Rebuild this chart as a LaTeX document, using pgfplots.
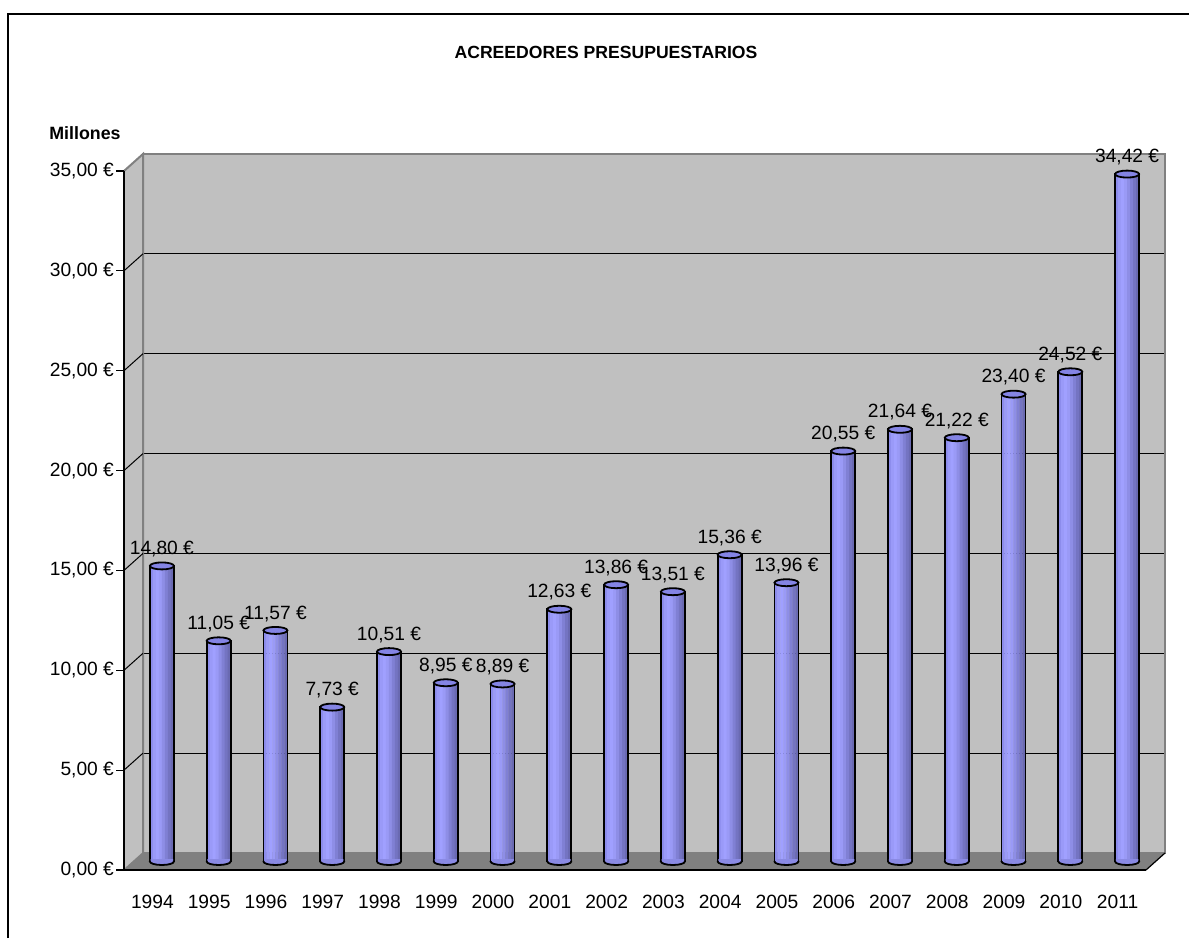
\documentclass[border=0pt]{standalone}
\usepackage{pgfplots}
\pgfplotsset{compat=1.18}
\usepackage{fontspec}
\setmainfont{Liberation Sans}
\pgfplotsset{/pgf/number format/assume math mode=true}
\definecolor{wall}{HTML}{C0C0C0}
\definecolor{floorc}{HTML}{808080}
\definecolor{edgec}{HTML}{808080}
\definecolor{topc}{HTML}{8484E4}
\definecolor{cylmid}{HTML}{8A8AE4}
\definecolor{s1}{HTML}{8C8CEC}
\definecolor{s2}{HTML}{9A9AF8}
\definecolor{s3}{HTML}{A0A0FF}
\definecolor{s4}{HTML}{9A9AF6}
\definecolor{s5}{HTML}{8E8EE6}
\definecolor{s6}{HTML}{8080D4}
\definecolor{s7}{HTML}{7474C2}
\definecolor{s8}{HTML}{6A6AB2}
\pgfdeclareplotmark{cyltop}{%
  \pgfpathellipse{\pgfpointorigin}{\pgfqpoint{6pt}{0pt}}{\pgfqpoint{0pt}{1.75pt}}%
  \pgfusepathqfillstroke}
\pgfdeclareplotmark{cylbot}{%
  \pgfpathmoveto{\pgfqpoint{-5.6pt}{1.2pt}}%
  \pgfpathlineto{\pgfqpoint{-5.6pt}{0pt}}%
  \pgfpatharc{180}{360}{5.6pt and 1.75pt}%
  \pgfpathlineto{\pgfqpoint{5.6pt}{1.2pt}}%
  \pgfpathclose
  \pgfusepathqfill
  \pgfpathmoveto{\pgfqpoint{-6pt}{0.3pt}}%
  \pgfpathlineto{\pgfqpoint{-6pt}{0pt}}%
  \pgfpatharc{180}{360}{6pt and 1.75pt}%
  \pgfpathlineto{\pgfqpoint{6pt}{0.3pt}}%
  \pgfusepathqstroke}
\pgfplotstableread{
x y
0 14.80
1 11.05
2 11.57
3 7.73
4 10.51
5 8.95
6 8.89
7 12.63
8 13.86
9 13.51
10 15.36
11 13.96
12 20.55
13 21.64
14 21.22
15 23.40
16 24.52
17 34.42
}\datatable
\begin{document}
\begin{tikzpicture}
\useasboundingbox (0,0) rectangle (594.5pt,469pt);
\fill[white] (0,0) rectangle (594.5pt,469pt);
% outer frame
\draw[black, line width=0.6pt] (4pt,0) -- (4pt,462pt) -- (594.5pt,462pt);
\node[font=\fontsize{8.8}{10}\selectfont\bfseries] at (303pt,443pt) {ACREEDORES PRESUPUESTARIOS};
\node[font=\fontsize{8.9}{10}\selectfont\bfseries, anchor=west, inner sep=0pt] at (24.5pt,402.5pt) {Millones};
% back wall
\begin{axis}[at={(71.5pt,42.5pt)}, anchor=south west, scale only axis,
  width=511pt, height=349.5pt, xmin=-0.5, xmax=17.5, ymin=0, ymax=35,
  axis background/.style={fill=wall},
  xtick=\empty, ytick={5,10,...,30}, yticklabels={}, major tick length=0pt,
  ymajorgrids, grid style={black, line width=0.5pt},
  axis line style={edgec, line width=1pt}]
\end{axis}
% left wall
\fill[wall] (62pt,34pt) -- (71.5pt,42.5pt) -- (71.5pt,392pt) -- (62pt,383.5pt) -- cycle;
\draw[edgec, line width=1pt] (62pt,383.5pt) -- (71.5pt,392pt) -- (71.5pt,42.5pt);
\foreach \k in {1,...,6} {
  \draw[black, line width=0.5pt] (62pt,34pt+\k*49.93pt) -- (71.5pt,42.5pt+\k*49.93pt);
}
% floor
\fill[floorc] (62pt,34pt) -- (573pt,34pt) -- (582.5pt,42.5pt) -- (71.5pt,42.5pt) -- cycle;
\draw[black, line width=0.6pt] (573pt,34pt) -- (582.5pt,42.5pt);
\draw[edgec, line width=0.8pt] (71.5pt,42.5pt) -- (62pt,34pt);
% cylinders
\begin{axis}[at={(66.75pt,38.25pt)}, anchor=south west, scale only axis,
  width=511pt, height=349.5pt, xmin=-0.5, xmax=17.5, ymin=0, ymax=35,
  hide axis, clip=false,
  stripe/.style={ybar, bar width=1.6pt, draw=none, fill=#1}]
\addplot[stripe=s1, bar shift=-5.25pt] table[x=x,y=y] {\datatable};
\addplot[stripe=s2, bar shift=-3.75pt] table[x=x,y=y] {\datatable};
\addplot[stripe=s3, bar shift=-2.25pt] table[x=x,y=y] {\datatable};
\addplot[stripe=s4, bar shift=-0.75pt] table[x=x,y=y] {\datatable};
\addplot[stripe=s5, bar shift=0.75pt] table[x=x,y=y] {\datatable};
\addplot[stripe=s6, bar shift=2.25pt] table[x=x,y=y] {\datatable};
\addplot[stripe=s7, bar shift=3.75pt] table[x=x,y=y] {\datatable};
\addplot[stripe=s8, bar shift=5.25pt] table[x=x,y=y] {\datatable};
\addplot[ybar, bar width=12pt, bar shift=0pt, draw=black, line width=0.9pt, fill=none] table[x=x,y=y] {\datatable};
\addplot[only marks, mark=cylbot, mark options={fill=cylmid, draw=black, line width=0.9pt}] coordinates {
(0,0) (1,0) (2,0) (3,0) (4,0) (5,0) (6,0) (7,0) (8,0) (9,0) (10,0) (11,0) (12,0) (13,0) (14,0) (15,0) (16,0) (17,0)};
\addplot[only marks, mark=cyltop, mark options={fill=topc, draw=black, line width=0.9pt},
  nodes near coords={\pgfmathprintnumber[fixed, fixed zerofill, precision=2, use comma]{\pgfplotspointmeta}~€},
  nodes near coords style={font=\fontsize{9.6}{11}\selectfont, anchor=south, inner sep=1pt, yshift=3pt}]
  table[x=x,y=y] {\datatable};
\end{axis}
% front axis
\begin{axis}[at={(62pt,34pt)}, anchor=south west, scale only axis,
  width=511pt, height=349.5pt, xmin=-0.5, xmax=17.5, ymin=0, ymax=35,
  axis x line*=bottom, axis y line*=left,
  axis line style={black, line width=0.6pt, -},
  xtick={0,...,17}, xticklabels={1994,1995,1996,1997,1998,1999,2000,2001,2002,2003,2004,2005,2006,2007,2008,2009,2010,2011},
  minor xtick={-0.5,0.5,...,17.5},
  xtick align=outside, ytick align=outside,
  x tick style={draw=none}, minor x tick style={black, line width=0.6pt},
  minor tick length=6pt, major tick length=4pt,
  y tick style={black, line width=0.6pt},
  ytick={0,5,...,35},
  yticklabel={\pgfmathprintnumber[fixed, fixed zerofill, precision=2, use comma]{\tick}~€},
  ticklabel style={font=\fontsize{9.6}{11}\selectfont},
  yticklabel style={xshift=2.5pt},
  xticklabel style={yshift=-5pt}]
\end{axis}
\end{tikzpicture}
\end{document}
